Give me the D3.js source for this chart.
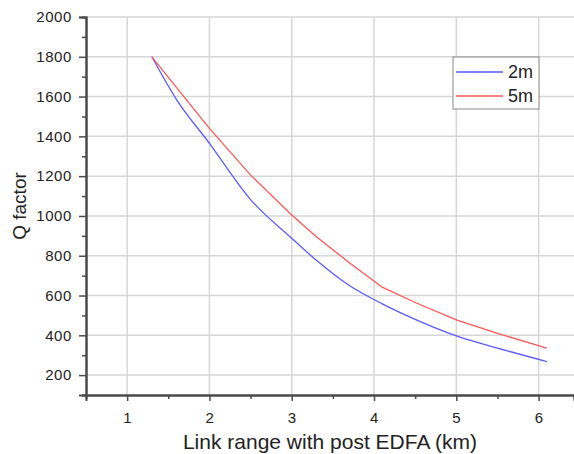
<!DOCTYPE html>
<html>
<head>
<meta charset="utf-8">
<script src="https://cdn.jsdelivr.net/npm/d3@7"></script>
<style>
  body { margin: 0; background: #fff; }
  svg { font-family: "Liberation Sans", Arial, sans-serif; }
</style>
</head>
<body>
<div id="chart"></div>
<script>
// link range (km) for each series
var range2m = [1.3, 1.6, 2.0, 2.5, 3.0, 3.3, 3.7, 4.1, 4.5, 5.0, 5.5, 6.1]
var q2m     = [1800, 1585, 1365, 1082, 888, 777, 650, 558, 480, 397, 336, 268]
var range5m = [1.3, 2.0, 2.5, 3.0, 3.3, 3.7, 4.1, 4.5, 5.0, 5.5, 6.1]
var q5m     = [1800, 1440, 1205, 1005, 895, 765, 642, 565, 478, 410, 335]

var xTicks = [1, 2, 3, 4, 5, 6]
var yTicks = [200, 400, 600, 800, 1000, 1200, 1400, 1600, 1800, 2000]
var seriesNames = ["2m", "5m"]
var seriesColors = ["#5a5aff", "#ff5656"]

var W = 574, H = 454
var margin = {top: 17, right: 0, bottom: 59, left: 86}
var width = W - margin.left - margin.right,
    height = H - margin.top - margin.bottom

var svg = d3.select("#chart").append("svg")
    .attr("width", W)
    .attr("height", H)

var g = svg.append("g")
    .attr("transform", "translate(" + margin.left + "," + margin.top + ")")

var x = d3.scaleLinear().domain([0.5, 6.43]).range([0, width])
var y = d3.scaleLinear().domain([100, 2000]).range([height, 0])

/* grid */
g.append("g").selectAll("line").data(xTicks).enter().append("line")
    .attr("x1", function(d) { return x(d) }).attr("x2", function(d) { return x(d) })
    .attr("y1", 0).attr("y2", height)
    .attr("stroke", "#d6d6d6").attr("stroke-width", 1.5)

g.append("g").selectAll("line").data(yTicks).enter().append("line")
    .attr("x1", 0).attr("x2", width)
    .attr("y1", function(d) { return y(d) }).attr("y2", function(d) { return y(d) })
    .attr("stroke", "#d6d6d6").attr("stroke-width", 1.5)

/* axes: minor ticks then major ticks */
var xMinor = d3.axisBottom(x).tickValues(d3.range(1.5, 6.5, 1)).tickSize(4).tickFormat("")
var yMinor = d3.axisLeft(y).tickValues(d3.range(100, 2000, 200)).tickSize(4).tickFormat("")
var xAxis = d3.axisBottom(x).tickValues(xTicks).tickSize(6).tickPadding(11).tickFormat(d3.format("d"))
var yAxis = d3.axisLeft(y).tickValues(yTicks).tickSize(7).tickPadding(7).tickFormat(d3.format("d"))

function styleAxis(sel) {
    sel.select(".domain").attr("stroke", "#4a4a4a").attr("stroke-width", 2)
    sel.selectAll(".tick line").attr("stroke", "#4a4a4a").attr("stroke-width", 1.5)
    sel.selectAll(".tick text").attr("fill", "#222").style("font-size", "15px")
        .style("letter-spacing", "0.6px")
}

g.append("g").attr("transform", "translate(0," + height + ")").call(xMinor).call(styleAxis)
g.append("g").attr("transform", "translate(0," + height + ")").call(xAxis).call(styleAxis)
g.append("g").call(yMinor).call(styleAxis)
g.append("g").call(yAxis).call(styleAxis)

/* lines: 2m is a smooth curve, 5m keeps its bend near 4.1 km */
var curves = [d3.curveMonotoneX, d3.curveLinear]
var series = [d3.zip(range2m, q2m), d3.zip(range5m, q5m)]

g.selectAll(".series").data(series).enter().append("path")
    .attr("class", "series")
    .attr("d", function(d, i) {
        return d3.line()
            .x(function(p) { return x(p[0]) })
            .y(function(p) { return y(p[1]) })
            .curve(curves[i])(d)
    })
    .attr("fill", "none")
    .attr("stroke", function(d, i) { return seriesColors[i] })
    .attr("stroke-width", 1.3)

/* axis titles */
svg.append("text")
    .attr("x", margin.left + width / 2)
    .attr("y", 449)
    .attr("text-anchor", "middle")
    .style("font-size", "21px")
    .attr("fill", "#222")
    .text("Link range with post EDFA (km)")

svg.append("text")
    .attr("transform", "translate(26,206) rotate(-90)")
    .attr("text-anchor", "middle")
    .style("font-size", "19px")
    .attr("fill", "#222")
    .text("Q factor")

/* legend */
var legend = svg.append("g").attr("transform", "translate(453,57)")
legend.append("rect")
    .attr("width", 86).attr("height", 52)
    .attr("fill", "#fff").attr("stroke", "#888").attr("stroke-width", 1)

var item = legend.selectAll(".item").data(seriesNames).enter().append("g")
    .attr("transform", function(d, i) { return "translate(0," + (15 + i * 24) + ")" })
item.append("line")
    .attr("x1", 3).attr("x2", 50)
    .attr("stroke", function(d, i) { return seriesColors[i] })
    .attr("stroke-width", 1.3)
item.append("text")
    .attr("x", 55).attr("y", 6)
    .style("font-size", "18px")
    .attr("fill", "#222")
    .text(function(d) { return d })
</script>
</body>
</html>
